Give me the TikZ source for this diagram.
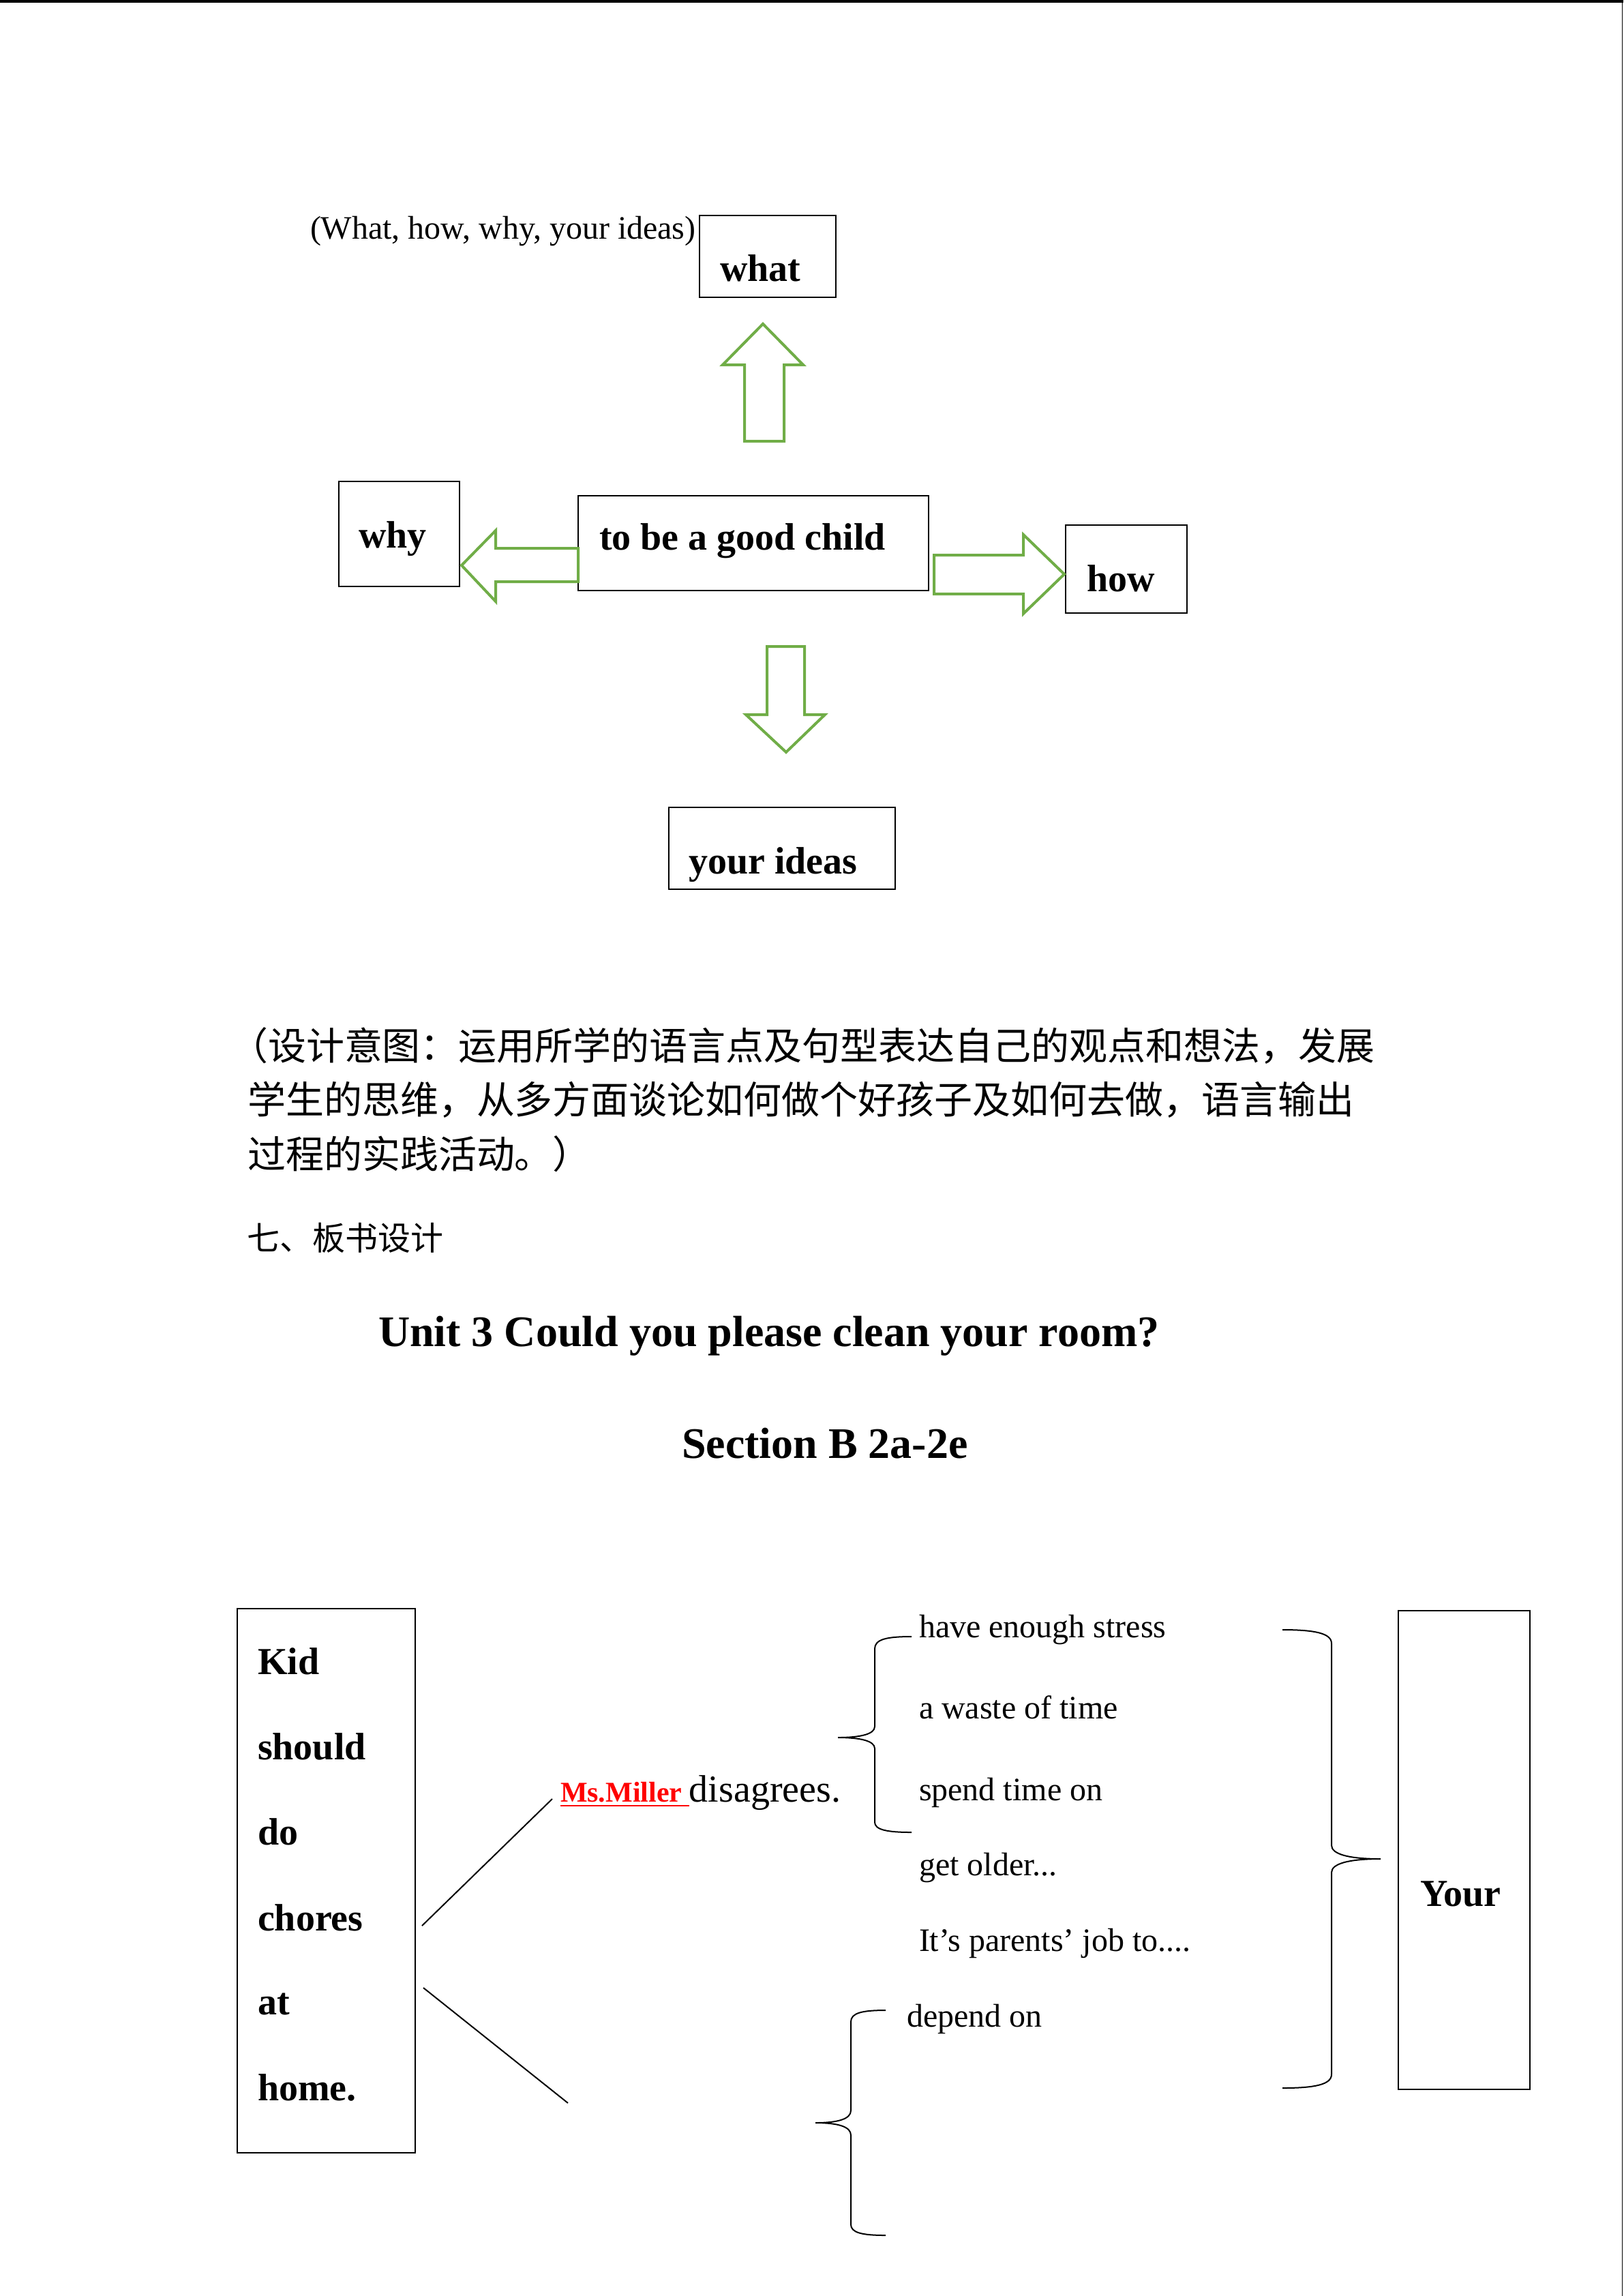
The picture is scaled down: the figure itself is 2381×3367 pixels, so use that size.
\documentclass[tikz,border=0pt]{standalone}
\usepackage{fontspec}
\setmainfont{Liberation Serif}
\newfontfamily\cjk{Noto Sans CJK SC}
\usetikzlibrary{fit}
\definecolor{arrowgreen}{RGB}{112,173,71}
\definecolor{msred}{RGB}{255,0,0}
\begin{document}
\begin{tikzpicture}[x=0.25pt,y=-0.25pt,
  every node/.style={inner sep=0pt,outer sep=0pt},
  box/.style={draw,line width=0.7pt,rectangle,inner sep=0pt},
  boldlbl/.style={anchor=base west,font=\fontsize{14}{16}\selectfont\bfseries},
  plainlbl/.style={anchor=base west,font=\fontsize{12}{14}\selectfont},
  cjkline/.style={anchor=base west,font=\fontsize{14}{16}\selectfont\cjk},
  titlelbl/.style={anchor=base west,font=\fontsize{16}{18}\selectfont\bfseries},
  blockarrow/.style={draw=arrowgreen,line width=1pt,line join=miter,fill=white},
  bracepath/.style={draw,line width=0.5pt},
  slantline/.style={draw,line width=0.5pt}
]
\useasboundingbox (0,0) rectangle (2381,3367);
\fill[white] (0,0) rectangle (2381,3367);
% page edges
\fill[black] (0,0) rectangle (2381,3.5);
\draw[line width=0.4pt] (2379.5,0) -- (2379.5,3367);

% ---------- top mind map ----------
\node[plainlbl] (hint) at (455,350) {(What, how, why, your ideas)};

\node[box,fit={(1026,316) (1226,436)}] (whatbox) {};
\node[boldlbl] (whatT) at (1056,412) {what};

\node[box,fit={(497,706) (674,860)}] (whybox) {};
\node[boldlbl] (whyT) at (526,803) {why};

\node[box,fit={(848,727) (1362,866)}] (centerbox) {};
\node[boldlbl] (centerT) at (879,806) {to be a good child};

\node[box,fit={(1563,770) (1741,899)}] (howbox) {};
\node[boldlbl] (howT) at (1594,867) {how};

\node[box,fit={(981,1184) (1313,1304)}] (ideasbox) {};
\node[boldlbl] (ideasT) at (1010,1281) {your ideas};

% block arrows
\draw[blockarrow] (1119,475) -- (1178,535) -- (1150,535) -- (1150,647) -- (1092,647) -- (1092,535) -- (1060,535) -- cycle;
\draw[blockarrow] (677,829) -- (727,778) -- (727,804) -- (848,804) -- (848,853) -- (727,853) -- (727,882) -- cycle;
\draw[blockarrow] (1370,814) -- (1501,814) -- (1501,784) -- (1561,842) -- (1501,900) -- (1501,871) -- (1370,871) -- cycle;
\draw[blockarrow] (1125,948) -- (1180,948) -- (1180,1048) -- (1210,1048) -- (1153,1103) -- (1094,1048) -- (1125,1048) -- cycle;

% ---------- Chinese paragraph ----------
\node[cjkline] (p1) at (337,1554) {（设计意图：运用所学的语言点及句型表达自己的观点和想法，发展};
\node[cjkline] (p2) at (363,1633) {学生的思维，从多方面谈论如何做个好孩子及如何去做，语言输出};
\node[cjkline] (p3) at (363,1713) {过程的实践活动。）};
\node[anchor=base west,font=\fontsize{12}{14}\selectfont\cjk] (sec7) at (362,1833) {七、板书设计};

% ---------- titles ----------
\node[titlelbl] (title) at (555,1974) {Unit 3 Could you please clean your room?};
\node[titlelbl] (subtitle) at (1000,2138) {Section B 2a-2e};

% ---------- board design ----------
\node[box,fit={(348,2359) (609,3157)}] (kidbox) {};
\node[boldlbl] (k1) at (378,2455) {Kid};
\node[boldlbl] (k2) at (378,2580) {should};
\node[boldlbl] (k3) at (378,2705) {do};
\node[boldlbl] (k4) at (378,2831) {chores};
\node[boldlbl] (k5) at (378,2954) {at};
\node[boldlbl] (k6) at (378,3080) {home.};

\node[anchor=base west,font=\fontsize{10.5}{12}\selectfont\bfseries,text=msred] (ms) at (822,2642) {\underline{Ms.Miller\ }};
\node[anchor=base west,font=\fontsize{14}{16}\selectfont] (dis) at (ms.base east) {disagrees.};

\coordinate (l1a) at (619,2824);
\coordinate (l1b) at (810,2638);
\coordinate (l2a) at (621,2915);
\coordinate (l2b) at (833,3084);
\draw[slantline] (l1a) -- (l1b);
\draw[slantline] (l2a) -- (l2b);

\node[plainlbl] (r1) at (1348,2401) {have enough stress};
\node[plainlbl] (r2) at (1348,2520) {a waste of time};
\node[plainlbl] (r3) at (1348,2640) {spend time on};
\node[plainlbl] (r4) at (1348,2750) {get older...};
\node[plainlbl] (r5) at (1348,2861) {It’s parents’ job to....};
\node[plainlbl] (r6) at (1330,2972) {depend on};

% braces
\draw[bracepath] (1337,2400) .. controls (1300,2400) and (1283,2404) .. (1283,2418) -- (1283,2532) .. controls (1283,2543) and (1262,2548) .. (1229,2548) .. controls (1262,2548) and (1283,2553) .. (1283,2564) -- (1283,2672) .. controls (1283,2683) and (1300,2687) .. (1337,2687);

\draw[bracepath] (1881,2390) .. controls (1928,2390) and (1953,2395) .. (1953,2410) -- (1953,2706) .. controls (1953,2719) and (1978,2726) .. (2025,2726) .. controls (1978,2726) and (1953,2733) .. (1953,2746) -- (1953,3042) .. controls (1953,3057) and (1928,3062) .. (1881,3062);

\draw[bracepath] (1299,2948) .. controls (1264,2948) and (1248,2952) .. (1248,2965) -- (1248,3095) .. controls (1248,3107) and (1230,3113) .. (1196,3113) .. controls (1230,3113) and (1248,3119) .. (1248,3131) -- (1248,3262) .. controls (1248,3274) and (1264,3278) .. (1299,3278);

\node[box,fit={(2051,2362) (2244,3064)}] (yourbox) {};
\node[boldlbl] (yourT) at (2083,2795) {Your};
\end{tikzpicture}
\end{document}
